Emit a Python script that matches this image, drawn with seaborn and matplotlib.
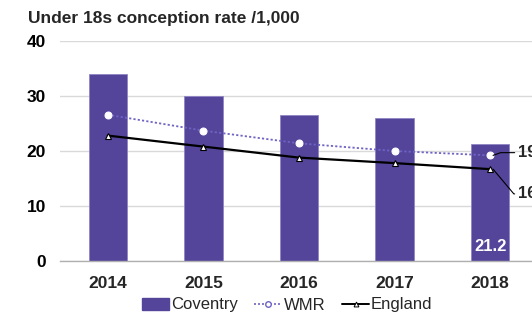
import numpy as np
import pandas as pd
import matplotlib
matplotlib.use("Agg")
import matplotlib.pyplot as plt
import seaborn as sns
from matplotlib.patches import Patch
from matplotlib.lines import Line2D

years = ["2014", "2015", "2016", "2017", "2018"]
coventry = [34.0, 30.0, 26.5, 26.0, 21.2]
wmr = [26.6, 23.7, 21.4, 20.0, 19.2]
england = [22.8, 20.8, 18.8, 17.8, 16.7]
y_ticks = [0, 10, 20, 30, 40]

sns.set_theme(style="white")
plt.rcParams["font.family"] = ["Liberation Sans", "DejaVu Sans"]

BAR = "#54459b"
WMR_C = "#6f63c4"
GRID = "#d9d9d9"
FS = 12.5

fig = plt.figure(figsize=(5.32, 3.21), dpi=100)
ax = fig.add_axes([60 / 532, 60 / 321, 478 / 532, 220 / 321])

df = pd.DataFrame({"year": years, "Coventry": coventry})
sns.barplot(data=df, x="year", y="Coventry", color=BAR, width=0.4,
            saturation=1, edgecolor="#8f86c4", linewidth=0.6, ax=ax, zorder=2)

pos = np.arange(len(years))
sns.lineplot(x=pos, y=wmr, ax=ax, color=WMR_C, linestyle=(0, (1.2, 1.2)), linewidth=1.3,
             marker="o", markersize=5, markerfacecolor="white", markeredgecolor="white",
             zorder=3)
sns.lineplot(x=pos, y=england, ax=ax, color="black", linewidth=1.6,
             marker="^", markersize=4.5, markerfacecolor="white", markeredgecolor="black",
             markeredgewidth=0.8, zorder=4)

ax.set_xlim(-0.5, len(years) - 0.5)
ax.set_ylim(0, 40)
ax.set_yticks(y_ticks)
ax.set_yticklabels([str(t) for t in y_ticks], fontsize=FS, fontweight="bold")
ax.set_xticks(pos)
ax.set_xticklabels(years, fontsize=FS, fontweight="bold")
ax.set_xticks(np.arange(-0.5, len(years), 1.0), minor=True)
ax.tick_params(axis="y", length=0, pad=10, colors="black")
ax.tick_params(axis="x", which="major", length=3, width=1, direction="inout",
               color="#aaaaaa", pad=9.5)
ax.tick_params(axis="x", which="minor", length=4, width=1, direction="out", color="#aaaaaa")
ax.grid(axis="y", color=GRID, linewidth=1, zorder=0)
ax.set_axisbelow(True)
for s in ["top", "right", "left"]:
    ax.spines[s].set_visible(False)
ax.spines["bottom"].set_color("#b0b0b0")
ax.spines["bottom"].set_linewidth(1)
ax.set_xlabel("")
ax.set_ylabel("")

# value label inside the last bar
ax.text(pos[-1], 2.6, f"{coventry[-1]:.1f}", ha="center", va="center",
        color="white", fontsize=12, fontweight="bold", zorder=5)

# leader-line labels for the final WMR and England values
ax.annotate(f"{wmr[-1]:.1f}", xy=(pos[-1] + 0.03, wmr[-1]),
            xytext=(pos[-1] + 0.29, wmr[-1] + 0.5), ha="left", va="center",
            fontsize=12, fontweight="bold",
            arrowprops=dict(arrowstyle="-", color="black", lw=0.8,
                            connectionstyle="angle,angleA=0,angleB=20,rad=0",
                            shrinkA=0, shrinkB=0))
ax.annotate(f"{england[-1]:.1f}", xy=(pos[-1] + 0.03, england[-1]),
            xytext=(pos[-1] + 0.29, england[-1] - 4.5), ha="left", va="center",
            fontsize=12, fontweight="bold",
            arrowprops=dict(arrowstyle="-", color="black", lw=0.8,
                            connectionstyle="angle,angleA=0,angleB=-50,rad=0",
                            shrinkA=0, shrinkB=0))

fig.text(28 / 532, 1 - 18 / 321, "Under 18s conception rate /1,000", fontsize=FS,
         fontweight="bold", ha="left", va="center")

handles = [
    Patch(facecolor=BAR, edgecolor=BAR),
    Line2D([0], [0], color=WMR_C, linestyle=(0, (1.2, 1.2)), linewidth=1.2, marker="o",
           markersize=4, markerfacecolor="white", markeredgecolor=WMR_C),
    Line2D([0], [0], color="black", linewidth=1.4, marker="^", markersize=3.5,
           markerfacecolor="white", markeredgecolor="black", markeredgewidth=0.7),
]
fig.legend(handles, ["Coventry", "WMR", "England"], loc="center",
           bbox_to_anchor=(287 / 532, 1 - 305 / 321), ncol=3, frameon=False,
           fontsize=12, handlelength=1.65, handletextpad=0.1, columnspacing=1.0,
           handleheight=0.7)

fig.savefig("out.png", dpi=100)
